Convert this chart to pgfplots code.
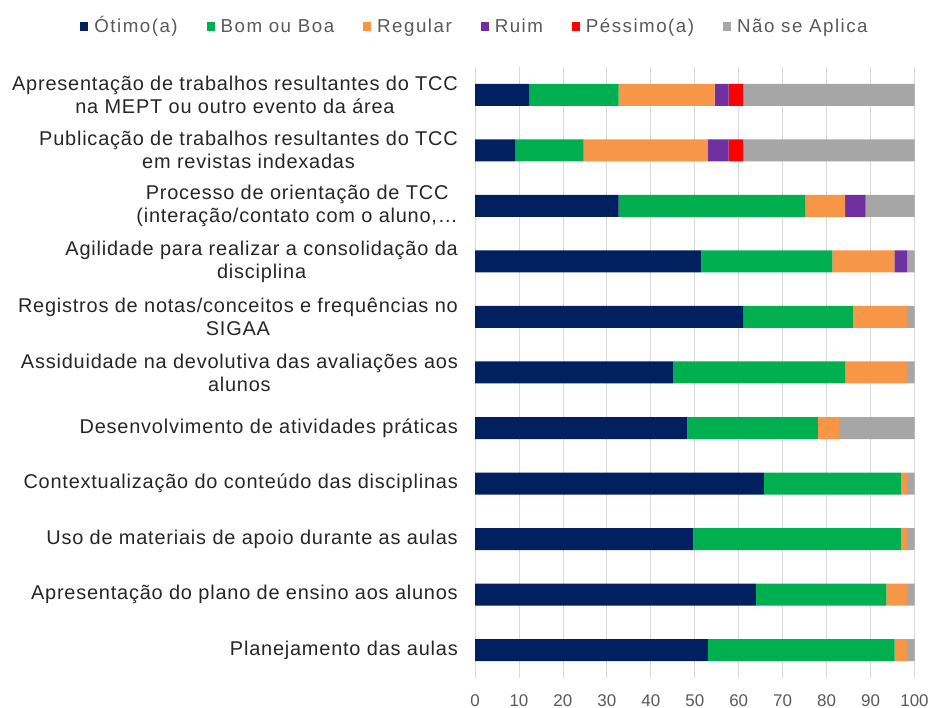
\documentclass[border=0pt]{standalone}
\usepackage{pgfplots}
\usepackage{pgfplotstable}
\pgfplotsset{compat=1.18}
\usepackage{fontspec}
\setmainfont{Liberation Sans}
\newfontfamily\catfont[LetterSpace=4]{Liberation Sans}
\newfontfamily\legfont[LetterSpace=8]{Liberation Sans}
\definecolor{cnavy}{HTML}{002060}
\definecolor{cgreen}{HTML}{00B050}
\definecolor{corange}{HTML}{F79646}
\definecolor{cpurple}{HTML}{7030A0}
\definecolor{cred}{HTML}{FF0000}
\definecolor{cgray}{HTML}{A6A6A6}
\definecolor{gridgray}{HTML}{D9D9D9}
\definecolor{labelcol}{HTML}{262626}
\definecolor{tickcol}{HTML}{595959}

\pgfplotstableread{
y otimo bom regular ruim pessimo na
0 12.3 20.4 21.8 3.2 3.3 39.0
1 9.1 15.6 28.3 4.7 3.3 39.0
2 32.7 42.4 9.1 4.7 0 11.1
3 51.5 29.8 14.1 2.9 0 1.7
4 61.0 25.0 12.3 0 0 1.7
5 45.0 39.2 14.1 0 0 1.7
6 48.3 29.7 4.8 0 0 17.2
7 65.7 31.2 1.4 0 0 1.7
8 49.7 47.2 1.4 0 0 1.7
9 63.9 29.7 4.7 0 0 1.7
10 53.0 42.5 2.8 0 0 1.7
}\datatable

\begin{document}
\begin{tikzpicture}[x=1bp,y=1bp]
\useasboundingbox (0,0) rectangle (934,708);
\begin{axis}[
  at={(475bp,30bp)}, anchor=south west,
  width=439.5bp, height=611bp, scale only axis,
  xbar stacked, bar width=22bp,
  xmin=0, xmax=100, ymin=-0.5, ymax=10.5, y dir=reverse,
  xtick={0,10,...,100}, ytick={0,...,10},
  yticklabels={
    {Apresentação de trabalhos resultantes do TCC\\na MEPT ou outro evento da área},
    {Publicação de trabalhos resultantes do TCC\\em revistas indexadas},
    {Processo de orientação de TCC\\(interação/contato com o aluno,…},
    {Agilidade para realizar a consolidação da\\disciplina},
    {Registros de notas/conceitos e frequências no\\SIGAA},
    {Assiduidade na devolutiva das avaliações aos\\alunos},
    {Desenvolvimento de atividades práticas},
    {Contextualização do conteúdo das disciplinas},
    {Uso de materiais de apoio durante as aulas},
    {Apresentação do plano de ensino aos alunos},
    {Planejamento das aulas}},
  axis line style={draw=none},
  tick style={draw=none},
  xmajorgrids,
  grid style={draw=gridgray, line width=0.8bp},
  yticklabel style={font=\catfont\fontsize{20}{23}\selectfont, align=center,
    text=labelcol, inner sep=0pt, xshift=-17bp},
  xticklabel style={font=\fontsize{17}{20}\selectfont, text=tickcol,
    inner sep=0pt, yshift=-16bp},
  /pgf/number format/assume math mode=true,
  legend style={at={(axis description cs:0.0,1.066)}, anchor=center,
    draw=none, fill=none, legend columns=6,
    font=\legfont\fontsize{18.8}{21}\selectfont, text=tickcol,
    nodes={text height=17bp, text depth=5bp},
    /tikz/every odd column/.append style={column sep=4bp},
    /tikz/every even column/.append style={column sep=27bp},
    inner sep=0pt},
  legend image code/.code={\path[#1] (0bp,-4.5bp) rectangle (8bp,4.5bp);},
]
\addplot[fill=cnavy, draw=none] table[x=otimo, y=y] {\datatable};
\addplot[fill=cgreen, draw=none] table[x=bom, y=y] {\datatable};
\addplot[fill=corange, draw=none] table[x=regular, y=y] {\datatable};
\addplot[fill=cpurple, draw=none] table[x=ruim, y=y] {\datatable};
\addplot[fill=cred, draw=none] table[x=pessimo, y=y] {\datatable};
\addplot[fill=cgray, draw=none] table[x=na, y=y] {\datatable};
\legend{Ótimo(a), Bom ou Boa, Regular, Ruim, Péssimo(a), Não se Aplica}
\end{axis}
\end{tikzpicture}
\end{document}
